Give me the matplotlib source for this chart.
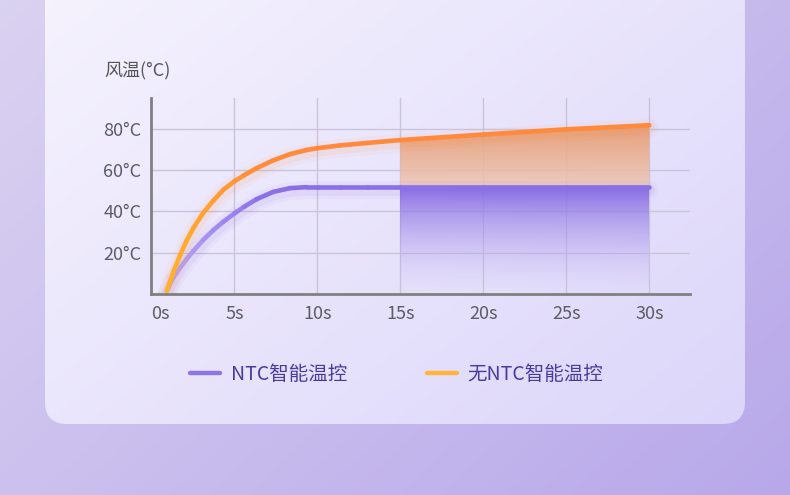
import numpy as np
import matplotlib
matplotlib.use("Agg")
import matplotlib.pyplot as plt
from matplotlib.collections import LineCollection
from matplotlib.patches import FancyBboxPatch
from matplotlib.lines import Line2D
from matplotlib.colors import to_rgba
import matplotlib.transforms as mtransforms

plt.rcParams['font.family'] = ['Noto Sans CJK SC', 'DejaVu Sans']
plt.rcParams['font.weight'] = 'medium'

# ---------------- data ----------------
time_s = [0.93, 1.33, 1.73, 2.13, 2.53, 3.13, 3.73, 4.34, 5.0, 5.6, 6.35, 7.35, 8.36, 9.36,
          10.02, 11.37, 13.0, 15.0, 20.0, 25.0, 30.0]
temp_ntc = [1.5, 8.0, 12.6, 16.9, 20.8, 26.2, 30.9, 35.0, 39.0, 42.3, 46.0, 49.5, 51.3, 51.8,
            51.8, 51.8, 51.8, 51.8, 51.8, 51.8, 51.8]
temp_no_ntc = [1.5, 10.7, 18.7, 25.9, 31.9, 39.3, 45.2, 50.5, 54.6, 57.6, 61.0, 64.8, 67.8, 69.8,
               70.7, 72.0, 73.2, 74.6, 77.3, 79.8, 81.8]
x_ticks = [0, 5, 10, 15, 20, 25, 30]
x_labels = ["0s", "5s", "10s", "15s", "20s", "25s", "30s"]
y_ticks = [20, 40, 60, 80]
y_labels = ["20°C", "40°C", "60°C", "80°C"]
series_names = ["NTC智能温控", "无NTC智能温控"]
y_title = "风温(°C)"
shade_start, shade_end = 15, 30

W, H = 790, 495
fig = plt.figure(figsize=(W / 100, H / 100), dpi=100)

# ---------------- background ----------------
bg = fig.add_axes([0, 0, 1, 1], zorder=-10)
bg.set_axis_off()
gx, gy = np.meshgrid(np.linspace(0, 1, 200), np.linspace(0, 1, 130))
d = np.clip((gx * 0.6 + gy * 0.4), 0, 1)[..., None]
c0 = np.array(to_rgba('#dad2f1'))
c1 = np.array(to_rgba('#b8a8ea'))
bg.imshow(c0 * (1 - d) + c1 * d, extent=[0, 1, 0, 1], origin='upper', aspect='auto')
bg.set_xlim(0, 1); bg.set_ylim(0, 1)

card_ax = fig.add_axes([0, 0, 1, 1], zorder=-9)
card_ax.set_axis_off()
card = FancyBboxPatch((45, -30), 700, 454, boxstyle="round,pad=0,rounding_size=22",
                      facecolor='none', edgecolor='none')
card_ax.add_patch(card)
cx, cy = np.meshgrid(np.linspace(0, 1, 200), np.linspace(0, 1, 130))
cd = np.clip(cx * 0.55 + cy * 0.45, 0, 1)[..., None]
k0 = np.array(to_rgba('#f6f3fe'))
k1 = np.array(to_rgba('#dcd6fa'))
cim = card_ax.imshow(k0 * (1 - cd) + k1 * cd, extent=[45, 745, 424, -30], origin='upper', aspect='auto')
cim.set_clip_path(card)
card_ax.set_xlim(0, W); card_ax.set_ylim(H, 0)

# ---------------- main axes ----------------
left_px, right_px, top_px, bot_px = 151.3, 690, 98, 294
ax = fig.add_axes([left_px / W, 1 - bot_px / H, (right_px - left_px) / W, (bot_px - top_px) / H])
ax.set_facecolor('none')

t = np.array(time_s)
a = np.array(temp_ntc)
b = np.array(temp_no_ntc)

def gradient_fill(x, y1, y2, top_rgba, bot_rgba, ybot, ytop, z):
    poly = ax.fill_between(x, y1, y2, facecolor='none', edgecolor='none', zorder=z)
    n = 256
    f = np.linspace(0, 1, n)[:, None, None]
    img = np.array(top_rgba)[None, None, :] * (1 - f) + np.array(bot_rgba)[None, None, :] * f
    img = np.repeat(img, 2, axis=1)
    im = ax.imshow(img, extent=[x.min(), x.max(), ybot, ytop], origin='upper',
                   aspect='auto', zorder=z, interpolation='bilinear')
    im.set_clip_path(poly.get_paths()[0], ax.transData)

m = (t >= shade_start) & (t <= shade_end)
gradient_fill(t[m], a[m], b[m], (0.91, 0.60, 0.42, 0.9), (0.93, 0.78, 0.72, 0.85), a[m].min(), b[m].max(), 2)
gradient_fill(t[m], np.zeros(m.sum()), a[m], (0.53, 0.42, 0.89, 0.97), (0.80, 0.76, 0.96, 0.0), 0, a[m].max(), 2)

def grad_line(x, y, c_start, c_main, span, z):
    # soft shadow under the line
    off = mtransforms.offset_copy(ax.transData, fig=fig, x=0, y=-3, units='dots')
    for lw, al in [(13, 0.05), (8, 0.08)]:
        ax.plot(x, y, color=c_main, alpha=al, linewidth=lw, solid_capstyle='round',
                solid_joinstyle='round', transform=off, zorder=z - 1)
    pts = np.column_stack([x, y])
    segs = np.stack([pts[:-1], pts[1:]], axis=1)
    mid = (x[:-1] + x[1:]) / 2
    w = np.clip((mid - x[0]) / span, 0, 1)[:, None]
    cols = np.array(to_rgba(c_start)) * (1 - w) + np.array(to_rgba(c_main)) * w
    lc = LineCollection(segs, colors=cols, linewidths=3.3, capstyle='round', joinstyle='round', zorder=z)
    ax.add_collection(lc)

grad_line(t, a, '#bcaaf6', '#8b6fe7', 6.0, 5)
grad_line(t, b, '#ffb22c', '#ff8a3c', 6.0, 6)

ax.set_xlim(0, 32.45)
ax.set_ylim(0, 95)
ax.set_xticks(x_ticks)
ax.set_xticklabels(x_labels)
ax.set_yticks(y_ticks)
ax.set_yticklabels(y_labels)
ax.grid(True, color='#c9c4d9', linewidth=1.0, zorder=0)
ax.set_axisbelow(True)
for s in ['top', 'right']:
    ax.spines[s].set_visible(False)
for s in ['left', 'bottom']:
    ax.spines[s].set_color('#808080')
    ax.spines[s].set_linewidth(2.0)
    ax.spines[s].set_zorder(8)
ax.tick_params(axis='both', length=0, labelsize=13, labelcolor='#5c5c66')
ax.tick_params(axis='x', pad=8)
ax.tick_params(axis='y', pad=7)
lbl0 = ax.get_xticklabels()[0]
lbl0.set_transform(lbl0.get_transform() + mtransforms.ScaledTranslation(9 / 100, 0, fig.dpi_scale_trans))

fig.text(104 / W, 1 - 71 / H, y_title, fontsize=13, color='#555558', ha='left', va='center')

handles = [Line2D([], [], color='#8f74e8', linewidth=3.2, solid_capstyle='round'),
           Line2D([], [], color='#ffb43c', linewidth=3.2, solid_capstyle='round')]
leg = fig.legend(handles, series_names, loc='center left', bbox_to_anchor=(190 / W, 1 - 374 / H),
                 ncol=2, frameon=False, borderpad=0, borderaxespad=0, handlelength=1.55,
                 handletextpad=0.55, columnspacing=4.1, prop={'size': 14, 'weight': 'medium'})
for txt in leg.get_texts():
    txt.set_color('#4a3a9c')

fig.savefig('out.png', dpi=100)
